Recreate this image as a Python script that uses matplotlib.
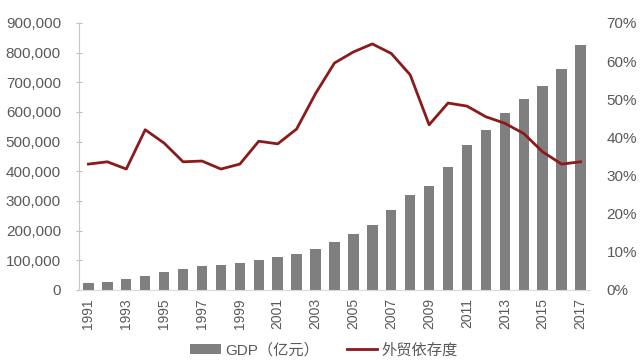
import matplotlib.pyplot as plt
import numpy as np
from matplotlib.ticker import FuncFormatter

plt.rcParams['font.family'] = ['Liberation Sans', 'Noto Sans CJK SC', 'DejaVu Sans']

years = list(range(1991, 2018))
gdp = [22006, 27195, 35673, 48638, 61340, 71814, 79715, 85196, 90564, 100280,
       110863, 121717, 137422, 161840, 187319, 219439, 270232, 319516, 349081,
       413030, 489301, 540367, 595244, 643974, 689052, 744127, 827122]
trade_dep = [33.0, 33.6, 31.7, 42.0, 38.5, 33.6, 33.8, 31.7, 33.0, 39.0,
             38.3, 42.2, 51.5, 59.5, 62.4, 64.5, 62.0, 56.4, 43.3, 49.0,
             48.2, 45.4, 43.7, 41.0, 36.2, 33.0, 33.6]
xtick_labels = [str(y) for y in years[::2]]

text_color = '#595959'
bar_color = '#7f7f7f'
line_color = '#8b1a1a'

fig = plt.figure(figsize=(6.42, 3.62), dpi=100)
ax = fig.add_axes([0.123, 0.199, 0.796, 0.7376])
x = np.arange(len(years))

# GDP bars on the left axis
bars = ax.bar(x, gdp, width=0.55, color=bar_color, label='GDP（亿元）', zorder=2)
ax.set_xlim(-0.5, len(years) - 0.5)
ax.set_ylim(0, 900000)
ax.set_yticks(np.arange(0, 900001, 100000))
ax.yaxis.set_major_formatter(FuncFormatter(lambda v, p: f'{int(v):,}'))
ax.set_xticks(x[::2])
ax.set_xticklabels(xtick_labels, rotation=90)
ax.tick_params(axis='y', colors='#bfbfbf', labelcolor=text_color, labelsize=11,
               length=4, direction='inout', pad=11)
ax.tick_params(axis='x', length=0, labelcolor=text_color, labelsize=10, pad=6)
for s in ['top', 'right']:
    ax.spines[s].set_visible(False)
ax.spines['left'].set_color('#c8c8c8')
ax.spines['bottom'].set_color('#d9d9d9')

# trade dependence line on the right axis
ax2 = ax.twinx()
line, = ax2.plot(x, trade_dep, color=line_color, linewidth=2, label='外贸依存度', zorder=3)
ax2.set_ylim(0, 70)
ax2.set_yticks(np.arange(0, 71, 10))
ax2.yaxis.set_major_formatter(FuncFormatter(lambda v, p: f'{int(v)}%'))
ax2.tick_params(axis='y', length=0, labelcolor=text_color, labelsize=11, pad=12)
for s in ['top', 'right', 'left', 'bottom']:
    ax2.spines[s].set_visible(False)

fig.legend([bars, line], ['GDP（亿元）', '外贸依存度'], loc='lower center',
           bbox_to_anchor=(0.505, -0.025), ncol=2, frameon=False, fontsize=11,
           labelcolor=text_color, handlelength=2.0, handletextpad=0.3,
           columnspacing=1.8)

fig.savefig('out.png', dpi=100)
